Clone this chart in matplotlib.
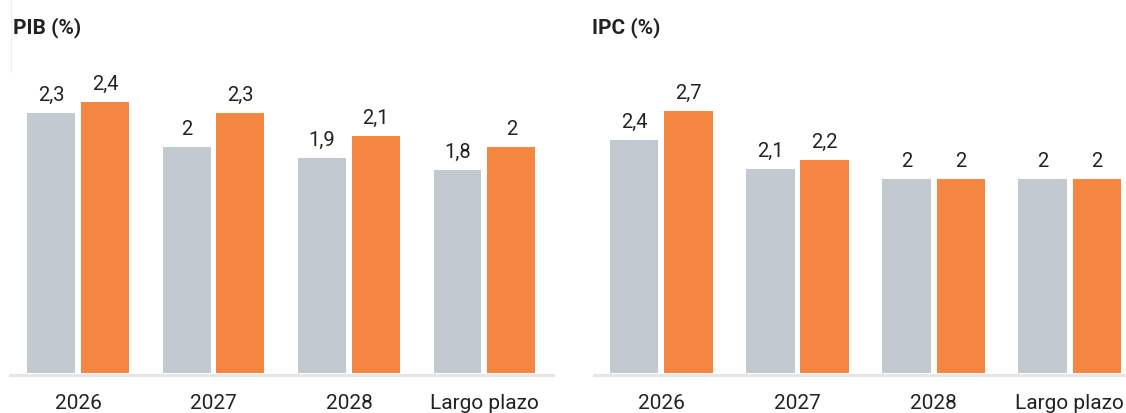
import numpy as np
import matplotlib
matplotlib.use('Agg')
import matplotlib.pyplot as plt
from matplotlib.lines import Line2D

plt.rcParams['font.family'] = ['Roboto', 'DejaVu Sans']

categories = ['2026', '2027', '2028', 'Largo plazo']
pib_prev = [2.3, 2.0, 1.9, 1.8]
pib_new = [2.4, 2.3, 2.1, 2.0]
ipc_prev = [2.4, 2.1, 2.0, 2.0]
ipc_new = [2.7, 2.2, 2.0, 2.0]

GRAY = '#c2c9d0'
ORANGE = '#f58641'
TEXT = '#222222'
W, H = 1126, 413


def fmt(v):
	s = ('%.1f' % v).rstrip('0').rstrip('.')
	return s.replace('.', ',')


def panel(fig, rect, prev, new, ymax, xlim, title, title_x):
	ax = fig.add_axes(rect)
	x = np.arange(len(categories))
	off = 0.199
	bw = 0.354
	b1 = ax.bar(x - off, prev, bw, color=GRAY, zorder=3)
	b2 = ax.bar(x + off, new, bw, color=ORANGE, zorder=3)
	for bars, vals in ((b1, prev), (b2, new)):
		for b, v in zip(bars, vals):
			ax.annotate(fmt(v), (b.get_x() + b.get_width() / 2, v),
						xytext=(0, 8.6), textcoords='offset points',
						ha='center', va='baseline', fontsize=14.5, color=TEXT)
	ax.set_xlim(xlim)
	ax.set_ylim(0, ymax)
	ax.set_xticks(x)
	ax.set_xticklabels(categories)
	ax.tick_params(axis='x', length=0, pad=14, labelsize=15, labelcolor=TEXT)
	ax.set_yticks([])
	for s in ('top', 'left', 'right'):
		ax.spines[s].set_visible(False)
	ax.spines['bottom'].set_color('#e6e6e6')
	ax.spines['bottom'].set_linewidth(2.2)
	ax.spines['bottom'].set_position(('outward', 1.1))
	fig.text(title_x / W, 1 - 33 / H, title, fontsize=15, fontweight='bold',
			 color=TEXT, ha='left', va='baseline')
	return ax


fig = plt.figure(figsize=(W / 100, H / 100), dpi=100)
bottom = 40 / H
height = 323 / H
panel(fig, [9.6 / W, bottom, (553 - 9.6) / W, height], pib_prev, pib_new,
	  323 / 113, (-0.505, 3.506), 'PIB (%)', 13)
panel(fig, [594 / W, bottom, (1126 - 594) / W, height], ipc_prev, ipc_new,
	  323 / 97, (-0.496, 3.415), 'IPC (%)', 592)

fig.add_artist(Line2D([10.5 / W, 10.5 / W], [1, 1 - 72 / H], color='#f0f0f0',
					  lw=0.8, transform=fig.transFigure))

fig.savefig('out.png', dpi=100)
